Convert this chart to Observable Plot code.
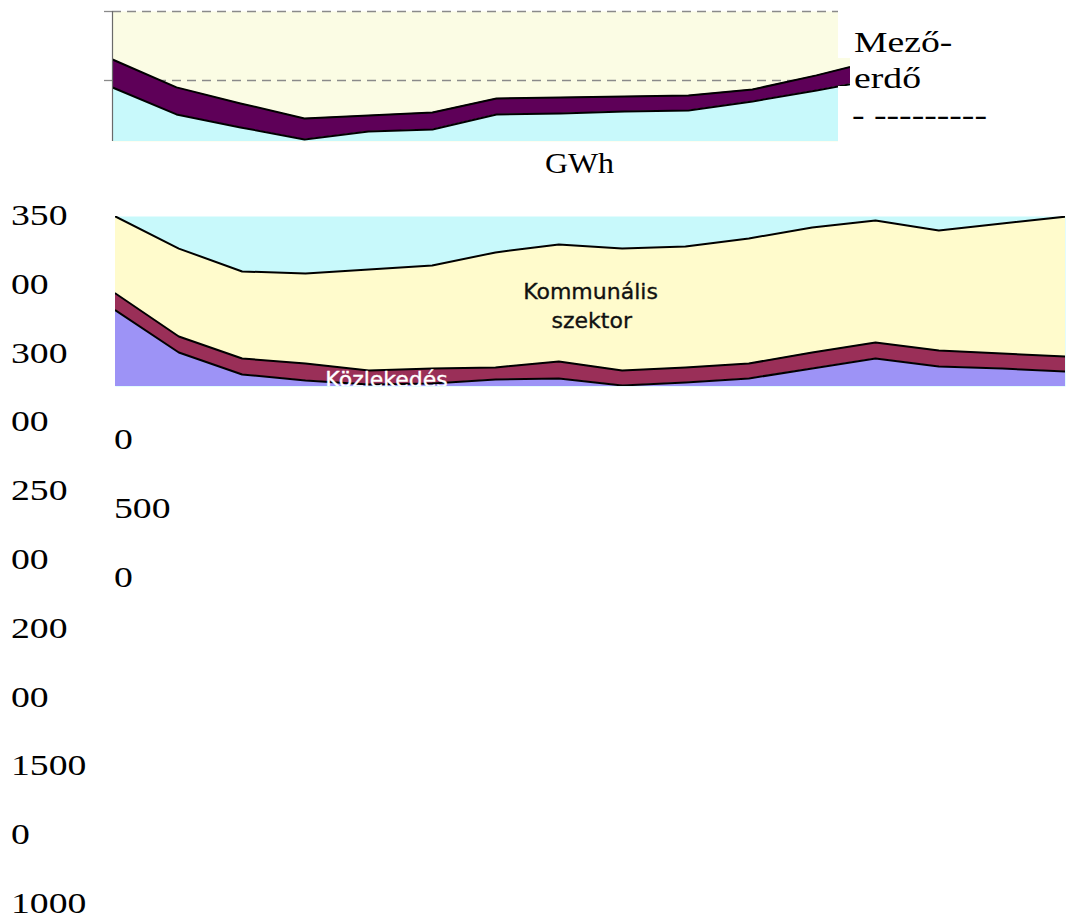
<!DOCTYPE html>
<html><head><meta charset="utf-8">
<script src="https://cdn.jsdelivr.net/npm/d3@7"></script>
<script src="https://cdn.jsdelivr.net/npm/@observablehq/plot@0.6"></script>
<style>
html,body{margin:0;padding:0;background:#fff;}
#page{position:relative;width:1066px;height:919px;overflow:hidden;background:#fff;}
.abs{position:absolute;}
svg{max-width:none !important;}
</style></head><body><div id="page"></div>
<script>
// ---------- DATA ----------
// upper (cropped) chart
const yearsTop = [1990,1991,1992,1993,1994,1995,1996,1997,1998,1999,2000,2001,2002];
const alapTop  = [29490,27540,26600,25730,26300,26450,27540,27610,27750,27830,28480,29280,30150];
const mezoErdo = [2030,1960,1740,1520,1160,1230,1160,1160,1090,1090,870,1090,1380];
const topGridTicks = [30000, 35000];

// lower chart (GWh)
const years = [1990,1991,1992,1993,1994,1995,1996,1997,1998,1999,2000,2001,2002,2003,2004,2005];
const ipar        = [26710,23000,21060,20530,20180,20260,20620,20710,20090,20350,20710,21590,22470,21760,21590,21320];
const kozlekedes  = [1500,1410,1410,1500,1240,1320,1060,1500,1320,1320,1320,1410,1410,1410,1320,1320];
const kommunalis  = [6790,7760,7680,7940,8910,9090,10150,10320,10760,10680,11030,11030,10760,10590,11470,12350];
const seriesNames = ["Ipar","Közlekedés","Kommunális szektor"];
const areaLabels = [
  {text:"Kommunális", year:1997.50, value:28380, color:"#111111"},
  {text:"szektor",    year:1997.52, value:25820, color:"#111111"},
  {text:"Közlekedés", year:1994.28, value:20620, color:"#ffffff"}
];

// loose text of the page
const leftColumn   = ["350","00","300","00","250","00","200","00","1500","0","1000"];
const secondColumn = ["0","500","0"];
const unitLabel = "GWh";
const legendLines = ["Mező-","erdő","- ---------"];

// ---------- LAYOUT ----------
const page = document.getElementById("page");

// upper chart
const topData = yearsTop.flatMap((yr,i)=>[
  {year:yr, series:"alap", value:alapTop[i]},
  {year:yr, series:"Mező-erdő", value:mezoErdo[i]}
]);
const topPlot = Plot.plot({
  width: 880, height: 150,
  marginLeft: 112, marginRight: 0, marginTop: 11, marginBottom: 9,
  x: {domain:[1990, 2002], axis: null},
  y: {domain:[25580, 35000], label: null},
  color: {domain:["alap","Mező-erdő"], range:["#c8f9fb","#5e0058"]},
  style: {background:"transparent", overflow:"visible", maxWidth:"none"},
  marks: [
    Plot.frame({fill:"#fbfce4", stroke:null}),
    Plot.ruleY(topGridTicks, {stroke:"#8a8a8a", strokeWidth:1.3, strokeDasharray:"9,6"}),
    Plot.axisY(topGridTicks, {tickSize:8, tickFormat:()=>"", label:null, stroke:"#8a8a8a", strokeWidth:1.3}),
    Plot.areaY(topData, Plot.stackY({x:"year", y:"value", z:"series", fill:"series", clip:true})),
    Plot.lineY(topData, Plot.stackY2({x:"year", y:"value", z:"series", stroke:"#000", strokeWidth:2, clip:true})),
    Plot.ruleX([yearsTop[0]], {stroke:"#6a6a6a", strokeWidth:1.2})
  ]
});
topPlot.style.maxWidth = "none";
const topBox = document.createElement("div");
topBox.className = "abs";
Object.assign(topBox.style, {left:"0px", top:"0px", width:"850px", height:"150px", overflow:"hidden"});
topBox.appendChild(topPlot);
page.appendChild(topBox);
// white text box of the legend overlapping the right edge
[[0,58],[86,64]].forEach(([t,h])=>{
  const d = document.createElement("div");
  d.className = "abs";
  Object.assign(d.style, {left:"838px", top:t+"px", width:"14px", height:h+"px", background:"#fff"});
  page.appendChild(d);
});

// lower chart
const botData = years.flatMap((yr,i)=>[
  {year:yr, series:seriesNames[0], value:ipar[i]},
  {year:yr, series:seriesNames[1], value:kozlekedes[i]},
  {year:yr, series:seriesNames[2], value:kommunalis[i]}
]);
const botPlot = Plot.plot({
  width: 1066, height: 200,
  marginLeft: 115, marginRight: 1, marginTop: 16, marginBottom: 14,
  x: {domain:[1990, 2005], axis:null},
  y: {domain:[20000, 35000], axis:null},
  color: {domain:seriesNames, range:["#9d93f6","#9a2f58","#fffbcc"]},
  style: {background:"transparent", maxWidth:"none"},
  marks: [
    Plot.frame({fill:"#c8f9fb", stroke:null}),
    Plot.areaY(botData, Plot.stackY({x:"year", y:"value", z:"series", fill:"series", clip:true})),
    Plot.lineY(botData, Plot.stackY2({x:"year", y:"value", z:"series", stroke:"#000", strokeWidth:2, clip:true})),
    Plot.text(areaLabels, {x:"year", y:"value", text:"text", fill:"color", stroke:"color", strokeWidth:0.35,
      fontSize:22, fontFamily:"DejaVu Sans", textAnchor:"middle", clip:true})
  ]
});
botPlot.style.maxWidth = "none";
const botBox = document.createElement("div");
botBox.className = "abs";
Object.assign(botBox.style, {left:"0px", top:"200px", width:"1066px", height:"200px"});
botBox.appendChild(botPlot);
page.appendChild(botBox);

// loose serif text (stretched like the original)
const svg = d3.select(page).append("svg")
  .attr("class","abs").attr("width",1066).attr("height",919)
  .style("left","0px").style("top","0px").style("pointer-events","none");
function serif(txt, x, y, size, sx){
  svg.append("text").attr("transform",`translate(${x},${y}) scale(${sx},1)`)
    .attr("font-family","Liberation Serif").attr("font-size",size).attr("fill","#000")
    .text(txt);
}
leftColumn.forEach((t,i)=>serif(t, 11, 225 + i*68.8, 29, 1.3));
secondColumn.forEach((t,i)=>serif(t, 114, 449 + i*69, 29, 1.3));
serif(unitLabel, 545, 173, 29, 1.1);
serif(legendLines[0], 854, 52, 29, 1.3);
serif(legendLines[1], 854, 88, 29, 1.3);
serif(legendLines[2], 852, 125, 29, 1.3);
</script></body></html>
